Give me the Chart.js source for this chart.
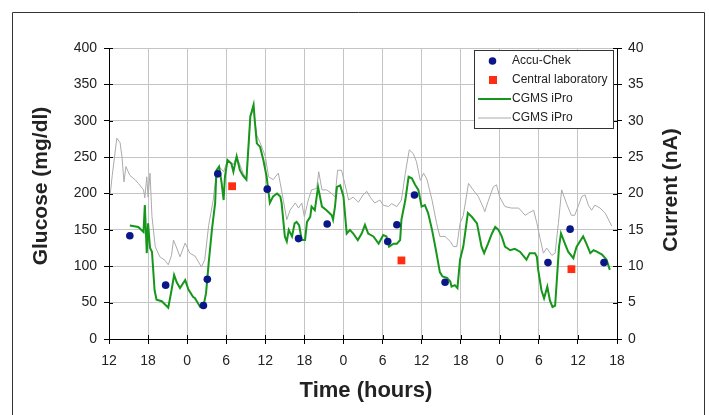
<!DOCTYPE html>
<html>
<head>
<meta charset="utf-8">
<script src="https://cdn.jsdelivr.net/npm/chart.js@4.4.1/dist/chart.umd.min.js"></script>
<style>
  html, body { margin: 0; padding: 0; background: #fff; }
  #wrap { width: 709px; height: 415px; }
</style>
</head>
<body>
<div id="wrap"><canvas id="glucoseChart" width="709" height="415"></canvas></div>
<script>
// hours since the first 12:00 tick
const tickLabels = ['12', '18', '0', '6', '12', '18', '0', '6', '12', '18', '0', '6', '12', '18'];

const cgmsTime = [
  3.2, 4.5, 5.3, 5.5, 5.8, 6.0, 6.3, 6.6, 7.0, 7.3,
  8.1, 9.1, 9.6, 10.0, 10.4, 10.9, 11.7, 12.2, 12.9, 13.2,
  14.0, 14.5, 14.9, 15.3, 15.8, 16.3, 16.5, 16.9, 17.3, 17.6,
  17.8, 18.2, 18.8, 19.1, 19.6, 20.1, 20.6, 21.1, 21.7, 22.2,
  22.4, 22.7, 23.2, 23.7, 24.2, 24.7, 25.2, 25.8, 26.3, 26.5,
  27.0, 27.3, 27.6, 28.1, 28.5, 28.8, 29.2, 29.6, 30.1, 30.4,
  30.9, 31.1, 31.6, 32.1, 32.7, 33.4, 34.2, 34.4, 34.7, 35.0,
  35.5, 36.0, 36.5, 37.0, 37.5, 38.2, 38.8, 39.3, 39.8, 40.6,
  41.4, 42.1, 42.6, 43.0, 43.7, 44.2, 44.7, 44.9, 45.5, 46.0,
  46.5, 47.0, 47.5, 48.0, 48.5, 49.0, 49.6, 50.2, 50.8, 51.2,
  51.9, 52.4, 52.6, 53.1, 53.5, 53.9, 54.4, 55.1, 55.7, 56.5,
  57.2, 57.6, 58.2, 58.8, 59.3, 59.8, 60.3, 60.8, 61.6, 62.3,
  63.1, 64.1, 64.6, 65.4, 65.7, 65.9, 66.4, 66.8, 67.3, 67.7,
  68.1, 68.5, 68.8, 69.1, 69.4, 70.0, 70.5, 71.3, 71.5, 71.8,
  72.3, 72.8, 73.3, 73.9, 74.4, 74.9, 75.7, 76.4, 76.9
];
const cgmsGlucose = [
  156, 154, 147, 184, 118, 159, 125, 120, 67, 54,
  52, 43, 67, 88, 78, 70, 81, 68, 58, 56,
  44, 45, 63, 104, 150, 187, 232, 237, 214, 191,
  223, 246, 241, 230, 251, 232, 224, 219, 306, 322,
  298, 269, 264, 246, 223, 187, 196, 200, 196, 187,
  141, 134, 150, 141, 159, 161, 156, 136, 136, 161,
  168, 182, 177, 209, 182, 177, 170, 164, 182, 209,
  211, 196, 145, 150, 145, 136, 145, 157, 145, 141,
  131, 143, 141, 127, 131, 131, 136, 164, 191, 223,
  221, 212, 205, 182, 184, 173, 150, 122, 92, 86,
  84, 79, 72, 74, 70, 109, 127, 173, 168, 159,
  127, 118, 131, 145, 154, 150, 141, 127, 122, 124,
  120, 109, 118, 118, 113, 95, 67, 56, 72, 53,
  44, 46, 86, 127, 145, 131, 120, 111, 118, 127,
  134, 141, 131, 118, 122, 120, 116, 109, 95
];

const currentTime = [
  0.2, 0.5, 1.2, 1.7, 2.0, 2.3, 2.6, 3.2, 4.0, 4.5,
  5.3, 5.5, 5.8, 6.0, 6.3, 6.6, 7.1, 7.8, 8.6, 9.1,
  9.6, 9.9, 10.4, 10.9, 11.7, 12.4, 13.2, 14.2, 14.7, 15.3,
  16.0, 16.5, 16.9, 17.6, 18.2, 19.1, 19.6, 20.6, 21.1, 21.7,
  22.2, 22.7, 23.2, 24.0, 24.5, 25.2, 26.0, 26.3, 26.8, 27.3,
  27.8, 28.6, 29.1, 29.6, 30.0, 30.6, 31.1, 31.9, 32.2, 32.7,
  33.4, 34.2, 34.7, 35.1, 35.7, 36.2, 36.8, 37.5, 38.3, 39.0,
  39.6, 40.1, 40.8, 41.6, 42.1, 42.9, 43.4, 44.2, 44.9, 45.5,
  46.1, 46.7, 47.2, 47.8, 48.3, 48.8, 49.6, 50.3, 50.8, 51.6,
  52.4, 52.9, 53.4, 53.9, 54.4, 55.2, 55.9, 56.7, 57.5, 57.7,
  58.2, 59.0, 59.5, 60.0, 60.8, 61.8, 62.9, 63.9, 64.4, 65.2,
  65.7, 66.2, 66.7, 67.2, 67.6, 68.0, 68.5, 69.0, 69.5, 70.3,
  71.0, 71.5, 72.1, 72.6, 73.1, 73.6, 74.1, 74.6, 75.4, 76.2, 77.2
];
const currentNA = [
  20.0, 22.5, 27.6, 27.0, 25.0, 21.6, 23.7, 22.5, 21.9, 21.4,
  20.5, 19.4, 22.3, 19.5, 22.8, 16.8, 12.7, 11.3, 10.8, 10.2,
  11.5, 13.6, 12.5, 11.3, 13.2, 11.8, 11.4, 9.9, 10.9, 15.6,
  19.1, 23.0, 23.7, 23.0, 24.6, 24.0, 25.1, 22.8, 22.0, 30.6,
  31.5, 28.0, 27.0, 25.1, 22.3, 21.9, 22.8, 21.4, 18.9, 16.4,
  17.7, 18.7, 18.0, 18.7, 16.8, 19.1, 20.5, 20.7, 23.0, 20.5,
  20.5, 20.0, 19.5, 23.2, 23.2, 21.4, 19.1, 19.5, 18.8, 19.8,
  20.3, 19.5, 18.7, 19.1, 18.4, 18.2, 18.6, 18.2, 19.1, 22.8,
  26.0, 25.5, 24.4, 21.8, 22.8, 22.0, 19.1, 15.9, 14.1, 14.1,
  13.4, 12.7, 12.7, 15.9, 17.0, 21.4, 20.5, 19.6, 18.0, 17.5,
  18.9, 20.9, 21.2, 19.5, 18.2, 18.0, 18.0, 17.0, 17.3, 17.7,
  15.9, 13.8, 11.8, 12.5, 12.0, 11.5, 11.8, 15.9, 20.5, 18.5,
  17.0, 17.0, 18.4, 19.6, 19.8, 18.4, 17.7, 18.4, 18.0, 17.3, 15.5
];

const accuTime = [3.2, 8.7, 14.5, 15.1, 16.7, 24.3, 29.1, 33.5, 42.8, 44.2, 46.9, 51.6, 67.4, 70.8, 76.0];
const accuGlucose = [142, 74, 46, 82, 227, 206, 138, 158, 134, 157, 198, 78, 105, 151, 105];

const labTime = [18.9, 44.9, 71.0];
const labGlucose = [210, 108, 96];

const pairs = (xs, ys) => xs.map((x, i) => ({ x: x, y: ys[i] }));

const FONT = '"Liberation Sans", Arial, sans-serif';
const TEXT = '#222';

// crossing tick marks, axis titles, in-plot legend, outer frame
const decor = {
  id: 'decor',
  afterDraw(chart) {
    const { ctx, chartArea: a, scales } = chart;
    ctx.save();

    ctx.strokeStyle = '#000';
    ctx.lineWidth = 1;
    ctx.beginPath();
    scales.x.ticks.forEach(t => {
      const px = Math.round(scales.x.getPixelForValue(t.value)) + 0.5;
      ctx.moveTo(px, a.bottom); ctx.lineTo(px, a.bottom - 4);
    });
    scales.y.ticks.forEach(t => {
      const py = Math.round(scales.y.getPixelForValue(t.value)) + 0.5;
      ctx.moveTo(a.left, py); ctx.lineTo(a.left + 4, py);
    });
    scales.y1.ticks.forEach(t => {
      const py = Math.round(scales.y1.getPixelForValue(t.value)) + 0.5;
      ctx.moveTo(a.right, py); ctx.lineTo(a.right - 4, py);
    });
    ctx.stroke();

    // titles
    ctx.fillStyle = TEXT;
    ctx.textAlign = 'center';
    ctx.textBaseline = 'middle';
    ctx.font = 'bold 21px ' + FONT;
    ctx.save();
    ctx.translate(41, 186);
    ctx.rotate(-Math.PI / 2);
    ctx.fillText('Glucose (mg/dl)', 0, 0);
    ctx.restore();
    ctx.save();
    ctx.translate(671, 190);
    ctx.rotate(-Math.PI / 2);
    ctx.fillText('Current (nA)', 0, 0);
    ctx.restore();
    ctx.font = 'bold 22px ' + FONT;
    ctx.fillText('Time (hours)', (a.left + a.right) / 2 + 3, 391);

    // legend
    const lx = 474, ly = 50, lw = 139, lh = 78;
    ctx.fillStyle = '#fff';
    ctx.fillRect(lx, ly, lw, lh);
    ctx.strokeStyle = '#333';
    ctx.strokeRect(lx + 0.5, ly + 0.5, lw, lh);
    const rows = [61, 80, 99, 118];
    chart.data.datasets.forEach((ds, i) => {
      const y = rows[i];
      if (ds.showLine) {
        ctx.strokeStyle = ds.borderColor;
        ctx.lineWidth = ds.borderWidth;
        ctx.beginPath();
        ctx.moveTo(478, y); ctx.lineTo(511, y);
        ctx.stroke();
      } else if (ds.pointStyle === 'rect') {
        ctx.fillStyle = ds.backgroundColor;
        ctx.fillRect(489, y - 4, 8, 8);
      } else {
        ctx.fillStyle = ds.backgroundColor;
        ctx.beginPath();
        ctx.arc(492.5, y, 3.8, 0, Math.PI * 2);
        ctx.fill();
      }
      ctx.fillStyle = TEXT;
      ctx.font = '12px ' + FONT;
      ctx.textAlign = 'left';
      ctx.fillText(ds.label, 512, y);
    });

    // outer frame
    ctx.strokeStyle = '#333';
    ctx.lineWidth = 1;
    ctx.beginPath();
    ctx.moveTo(12.5, 415); ctx.lineTo(12.5, 12.5); ctx.lineTo(704.5, 12.5); ctx.lineTo(704.5, 415);
    ctx.stroke();
    ctx.restore();
  }
};

new Chart(document.getElementById('glucoseChart').getContext('2d'), {
  type: 'scatter',
  data: {
    datasets: [
      {
        label: 'Accu-Chek',
        data: pairs(accuTime, accuGlucose),
        yAxisID: 'y',
        pointStyle: 'circle',
        pointRadius: 3.8,
        backgroundColor: '#0b1788',
        borderWidth: 0,
        showLine: false
      },
      {
        label: 'Central laboratory',
        data: pairs(labTime, labGlucose),
        yAxisID: 'y',
        pointStyle: 'rect',
        pointRadius: 5.5,
        backgroundColor: '#ff2e12',
        borderWidth: 0,
        showLine: false
      },
      {
        label: 'CGMS iPro',
        data: pairs(cgmsTime, cgmsGlucose),
        yAxisID: 'y',
        showLine: true,
        borderColor: '#16961a',
        borderWidth: 2,
        pointRadius: 0,
        tension: 0
      },
      {
        label: 'CGMS iPro',
        data: pairs(currentTime, currentNA),
        yAxisID: 'y1',
        showLine: true,
        borderColor: '#ababab',
        borderWidth: 1,
        pointRadius: 0,
        tension: 0
      }
    ]
  },
  options: {
    responsive: false,
    animation: false,
    devicePixelRatio: 1,
    layout: { padding: { top: 48, left: 0, right: 0, bottom: 0 } },
    plugins: { legend: { display: false }, tooltip: { enabled: false } },
    scales: {
      x: {
        type: 'linear',
        min: 0,
        max: 78,
        afterFit: s => { s.height = 76; },
        grid: { color: '#c4c4c4', tickColor: '#000', tickLength: 5 },
        border: { color: '#000' },
        ticks: {
          stepSize: 6,
          autoSkip: false,
          maxRotation: 0,
          padding: 9,
          color: TEXT,
          font: { family: FONT, size: 14 },
          callback: v => tickLabels[Math.round(v / 6)]
        }
      },
      y: {
        position: 'left',
        min: 0,
        max: 400,
        afterFit: s => { s.width = 109; },
        grid: { color: '#c4c4c4', tickColor: '#000', tickLength: 5 },
        border: { color: '#000' },
        ticks: { stepSize: 50, padding: 7, color: TEXT, font: { family: FONT, size: 14 } }
      },
      y1: {
        position: 'right',
        min: 0,
        max: 40,
        afterFit: s => { s.width = 92; },
        grid: { drawOnChartArea: false, tickColor: '#000', tickLength: 5 },
        border: { color: '#000' },
        ticks: { stepSize: 5, padding: 6, color: TEXT, font: { family: FONT, size: 14 } }
      }
    }
  },
  plugins: [decor]
});
</script>
</body>
</html>
